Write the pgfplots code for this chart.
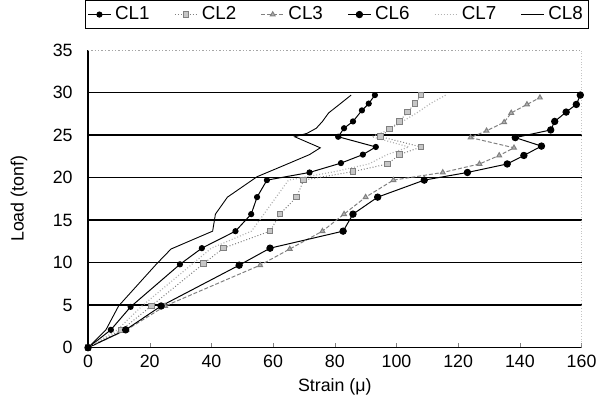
\documentclass[border=0pt]{standalone}
\usepackage{fontspec}
\setmainfont{Liberation Sans}
\usepackage{pgfplots}
\pgfplotsset{compat=1.18}

\begin{document}
\begin{tikzpicture}
\begin{axis}[
  name=ax,
  width=249.5pt, height=150.5pt, scale only axis,
  xmin=0, xmax=160, ymin=0, ymax=35,
  xtick={0,20,...,160}, ytick={0,5,...,30},
  extra y ticks={35},
  extra y tick style={grid style={draw=gray!70, densely dotted, line width=0.4pt}},
  axis x line=bottom, axis y line=left,
  axis line style={-, line width=0.6pt},
  xtick align=inside, major tick length=2.5pt,
  ytick style={draw=none},
  yticklabel style={xshift=-3pt},
  ymajorgrids, grid style={draw=black, line width=0.7pt},
  font=\fontsize{9}{11}\selectfont,
  /pgf/number format/assume math mode=true,
  xlabel={Strain (μ)}, ylabel={Load (tonf)},
  xlabel style={yshift=1pt}, ylabel style={yshift=3.5pt},
  legend columns=6,
  legend style={at={(axis description cs:0.5,1.07)}, anchor=south, xshift=1.25pt,
    draw=black, line width=0.6pt,
    font=\fontsize{9.5}{10}\selectfont, inner sep=1pt,
    /tikz/every even column/.append style={column sep=10.5pt}},
  legend image code/.code={\draw[mark repeat=2,mark phase=2,#1]
    plot coordinates {(0cm,0cm) (0.2cm,0cm) (0.4cm,0cm)};},
  legend image post style={line width=0.5pt},
  every axis plot/.append style={line width=0.5pt},
]
\draw[gray!70, densely dotted, line width=0.4pt] (rel axis cs:1,0) -- (rel axis cs:1,1);
% CL1
\addplot[black, mark=*, mark size=1.3pt] coordinates {
 (0,0) (7.4,2.1) (13.8,4.8) (29.8,9.8) (36.9,11.7) (47.8,13.7) (52.9,15.7)
 (54.8,17.7) (58,19.7) (71.8,20.6) (82,21.7) (89.1,22.7) (93.3,23.6)
 (81.1,24.8) (83,25.8) (85.9,26.6) (88.8,27.9) (91,28.7) (93,29.7)};
\addlegendentry{CL1}
% CL2
\addplot[gray, densely dotted, mark=square*, mark size=1.4pt,
  mark options={solid, fill=gray!45, draw=gray}] coordinates {
 (0,0) (10.9,2.1) (20.5,4.9) (37.5,9.9) (43.9,11.7) (59,13.7) (62.2,15.7)
 (67.6,17.7) (69.9,19.7) (85.9,20.7) (97.1,21.6) (101,22.7) (108,23.6)
 (94.9,24.8) (97.8,25.7) (101,26.6) (103.5,27.7) (106,28.7) (108,29.7)};
\addlegendentry{CL2}
% CL3
\addplot[gray, dash pattern=on 2pt off 1pt, mark=triangle*, mark size=1.4pt,
  mark options={solid, fill=gray!60, draw=gray}] coordinates {
 (0,0) (12.5,2.1) (25,4.9) (55.8,9.7) (65.4,11.6) (76,13.7) (83,15.7)
 (90,17.7) (99,19.7) (115,20.6) (126.9,21.6) (133.3,22.6) (138.1,23.5)
 (124,24.7) (129.2,25.5) (134.9,26.5) (137.2,27.6) (142.3,28.6) (146.5,29.4)};
\addlegendentry{CL3}
% CL6
\addplot[black, mark=*, mark size=1.6pt] coordinates {
 (0,0) (12.2,2.1) (23.7,4.9) (49,9.7) (59,11.7) (82.7,13.7) (85.9,15.7)
 (93.9,17.7) (109,19.7) (123,20.6) (135.9,21.6) (141.3,22.6) (147,23.7)
 (138.5,24.7) (150,25.6) (151.3,26.6) (155,27.7) (158.3,28.6) (159.6,29.7)};
\addlegendentry{CL6}
% CL7
\addplot[gray!60, densely dotted, line width=0.6pt] coordinates {
 (0,0) (9.5,2.1) (17.5,4.9) (34,9.9) (40,11.7) (53,13.7) (57,15.7)
 (61,17.7) (65,19.7) (80,20.7) (91,21.6) (97,22.7) (104,23.6)
 (92,24.8) (97.4,25.6) (102,26.6) (107,27.7) (111,28.7) (116,29.7)};
\addlegendentry{CL7}
% CL8
\addplot[black, line width=0.45pt] coordinates {
 (0,0) (5.8,2.1) (9.9,4.9) (22.1,9.8) (26.9,11.6) (40.4,13.7) (41.3,15.7)
 (45.2,17.7) (54.8,20.1) (64,21.5) (71.8,22.7) (75.3,23.5) (67,24.8)
 (71,25.2) (74,25.8) (76,26.6) (78,27.6) (81.5,28.6) (85.3,29.7)};
\addlegendentry{CL8}
\end{axis}
% page margins as in the reference
\path (ax.south west) ++(-44.5pt,-30pt);
\path (ax.north east) ++(7.5pt,24.5pt);
\end{tikzpicture}
\end{document}
